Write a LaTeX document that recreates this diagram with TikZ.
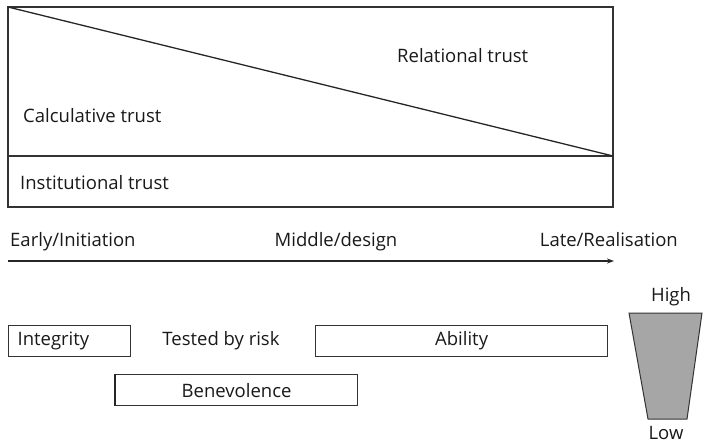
\documentclass[tikz,border=0pt]{standalone}
\usepackage{fontspec}
\setmainfont{Open Sans}
\usetikzlibrary{arrows.meta}
\begin{document}
\begin{tikzpicture}[x=1pt,y=-1pt,
  every node/.style={font=\fontsize{18.5}{21}\selectfont, text=black!90, inner sep=0pt},
  frame/.style={draw=black!80, line width=1.2pt},
  factor/.style={draw=black!80, line width=1.2pt, minimum height=31pt, inner sep=0pt},
  lbl/.style={anchor=base west}]
\useasboundingbox (0,0) rectangle (703,445);
% trust layers
\coordinate (tl) at (8,7);
\coordinate (tr) at (613,7);
\coordinate (ml) at (8,156);
\coordinate (mr) at (613,156);
\coordinate (bl) at (8,207);
\coordinate (br) at (613,207);
\draw[frame] (tl) rectangle (mr);
\draw[frame] (ml) rectangle (br);
\draw[black!85, line width=1.3pt] (tl) -- (mr);
\node[lbl] (rel) at (397,62) {Relational trust};
\node[lbl] (calc) at (23,122) {Calculative trust};
\node[lbl] (inst) at (20,189) {Institutional trust};
% project phases
\node[lbl] (early) at (10,246) {Early/Initiation};
\node[anchor=base] (mid) at (336,246) {Middle/design};
\node[anchor=base east] (late) at (678,246) {Late/Realisation};
\coordinate (a0) at (8,261);
\coordinate (a1) at (614,261);
\draw[black!85, line width=1.3pt, -{Stealth[length=7pt,width=5pt]}] (a0) -- (a1);
% trust factors
\node[factor, text width=104pt, inner xsep=9pt, align=left, anchor=north west] (integ) at (8,325) {Integrity};
\node (risk) at (221,341) {Tested by risk};
\node[factor, minimum width=292pt, anchor=north west] (abil) at (315,325) {Ability};
\node[factor, minimum width=242pt, anchor=north west] (bene) at (115,374) {Benevolence};
\draw[black!85, line width=2pt] (bene.north west) -- (bene.south west);
% high/low scale
\coordinate (t1) at (629,313);
\coordinate (t2) at (702,313);
\coordinate (t3) at (687,419);
\coordinate (t4) at (648,419);
\draw[fill=black!35, draw=black!80, line width=1pt] (t1) -- (t2) -- (t3) -- (t4) -- cycle;
\node[anchor=base] (high) at (671,301) {High};
\node (low) at (666,433) {Low};
\end{tikzpicture}
\end{document}
